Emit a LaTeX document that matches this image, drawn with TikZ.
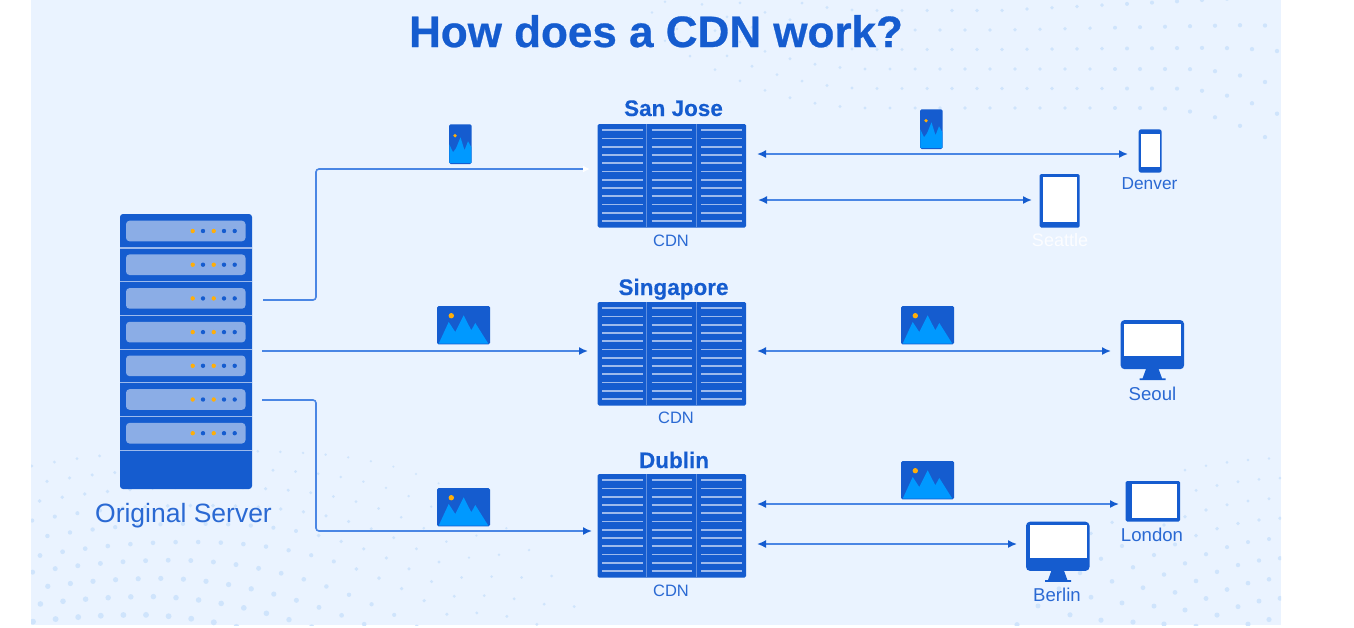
\documentclass[tikz,border=0pt]{standalone}
\usepackage{fontspec}
\setmainfont{Liberation Sans}
\newfontface\heavyface[FakeBold=0.6]{Liberation Sans Bold}
\newfontface\siteface[FakeBold=0.25]{Liberation Sans Bold}
\usetikzlibrary{arrows.meta}
\definecolor{bgc}{HTML}{EAF3FF}
\definecolor{dotc}{HTML}{CFE4FC}
\definecolor{bluec}{HTML}{155CCF}
\definecolor{linec}{HTML}{4A86E4}
\definecolor{textc}{HTML}{2A69D3}
\definecolor{slotc}{HTML}{8BADE6}
\definecolor{stripec}{HTML}{9DBAEC}
\definecolor{dividerc}{HTML}{5F8FE0}
\definecolor{skyc}{HTML}{0099FF}
\definecolor{sunc}{HTML}{FFAE0A}
\tikzset{
  solid box/.style={fill=bluec,draw=none,rounded corners=1.5pt,inner sep=0,outer sep=0},
  screen/.style={fill=white,draw=none,inner sep=0,outer sep=0},
  slot/.style={fill=slotc,draw=none,rounded corners=3.5pt,inner sep=0,outer sep=0},
  conn/.style={draw=linec,line width=1.6pt,rounded corners=3pt},
  onetip/.style={conn,-{Latex[length=9pt,width=8pt,color=bluec]}},
  twotip/.style={conn,{Latex[length=9pt,width=8pt,color=bluec]}-{Latex[length=9pt,width=8pt,color=bluec]}},
  whitetip/.style={conn,-{Latex[length=7pt,width=7pt,color=white]}},
  big title/.style={anchor=base,inner sep=0,text=bluec,font=\fontsize{44}{50}\heavyface},
  site/.style={anchor=base,inner sep=0,text=bluec,font=\fontsize{22.5}{26}\siteface},
  small label/.style={anchor=base,inner sep=0,text=textc,font=\fontsize{16.5}{20}\selectfont},
  city/.style={anchor=base,inner sep=0,text=textc,font=\fontsize{18.6}{22}\selectfont},
  server label/.style={anchor=base,inner sep=0,text=textc,font=\fontsize{26.5}{30}\selectfont},
}
% style, name, x1, y1, x2, y2
\newcommand{\rn}[6]{%
  \pgfmathsetmacro\rw{#5-(#3)}\pgfmathsetmacro\rh{#6-(#4)}%
  \pgfmathsetmacro\rcx{(#3+#5)/2}\pgfmathsetmacro\rcy{(#4+#6)/2}%
  \node[#1,minimum width=\rw pt,minimum height=\rh pt] (#2) at (\rcx,\rcy) {};}
% CDN block: name, top y
\newcommand{\cdnblock}[2]{%
  \pgfmathsetmacro\cby{#2+103.5}%
  \rn{solid box}{#1}{597.5}{#2}{746}{\cby}
  \foreach \dvx in {646.7,696.7}{\draw[dividerc,line width=.5pt] (\dvx,#2) -- (\dvx,\cby);}
  \foreach \colx in {602,651.5,701}{\foreach \sti in {0,...,11}{%
    \pgfmathsetmacro\sty{#2+6.3+8.24*\sti}%
    \draw[stripec,line width=1.7pt] (\colx,\sty) -- ++(40.5,0);}}}
% landscape picture: name, x, y
\newcommand{\wideimg}[3]{%
  \pgfmathsetmacro\ix{#2+53}\pgfmathsetmacro\iy{#3+38.3}%
  \rn{solid box}{#1}{#2}{#3}{\ix}{\iy}
  \begin{scope}[shift={(#2,#3)}]
    \fill[skyc] (1.7,37.6)--(11.7,16)--(18.3,26)--(26.7,9.3)--(34.3,24.3)--(38.3,17)--(51.3,37.6)--cycle;
    \fill[sunc] (14.3,9.7) circle[radius=2.7pt];
  \end{scope}}
% narrow picture: name, x, y
\newcommand{\tallimg}[3]{%
  \pgfmathsetmacro\ix{#2+22.7}\pgfmathsetmacro\iy{#3+39.7}%
  \rn{solid box}{#1}{#2}{#3}{\ix}{\iy}
  \begin{scope}[shift={(#2,#3)}]
    \fill[skyc] (0.3,38.5)--(0.3,20)--(4,28)--(7,24)--(11.5,13)--(15.5,26)--(19,17)--(22.4,23)--(22.4,38.5)--cycle;
    \fill[sunc] (6,11.4) circle[radius=1.8pt];
  \end{scope}}
% monitor: name, x, y
\newcommand{\monitor}[3]{%
  \pgfmathsetmacro\ix{#2+63.5}\pgfmathsetmacro\iy{#3+49.2}%
  \rn{solid box,rounded corners=4pt}{#1}{#2}{#3}{\ix}{\iy}
  \begin{scope}[shift={(#2,#3)}]
    \fill[white] (3.5,3.6) rectangle (60.5,36);
    \fill[bluec] (25.4,49)--(38,49)--(41.4,58.3)--(45,58.3)--(45,60.2)--(19,60.2)--(19,58.3)--(22,58.3)--cycle;
  \end{scope}}
\begin{document}
\begin{tikzpicture}[x=1pt,y=-1pt]
\useasboundingbox (0,0) rectangle (1354,627);
\fill[white] (0,0) rectangle (1354,627);
\rn{fill=bgc,draw=none,inner sep=0,outer sep=0}{panel}{31}{0}{1281}{625}
% background dot texture
\begin{scope}
\clip (31,0) rectangle (1281,625);
% lower left family
\foreach \j in {0,...,9}{
  \pgfmathsetmacro\yz{451+18.2*\j}
  \pgfmathsetmacro\xc{\yz>542?185-(\yz-542)*0.62:190}
  \pgfmathsetmacro\aa{min(45,13+(\yz-445)*0.289)}
  \pgfmathsetmacro\pp{max(1.8,3.7-(\yz-445)*0.0148)}
  \foreach \n in {-10,...,22}{
    \pgfmathsetmacro\xx{190-7.4*\j+22.6*\n}
    \pgfmathsetmacro\dd{\xx-\xc}
    \pgfmathsetmacro\yy{\yz+(\dd>0?\aa*pow(max(\dd,1)/200,\pp):6*(\dd/100)*(\dd/100))}
    \pgfmathsetmacro\rr{(1.5+1.5*min(1,max(0,(\yy-450)/175)))*max(.55,1-max(0,\xx-250)/500)}
    \fill[dotc] (\xx,\yy) circle[radius=\rr pt];
  }
}
% lower right family
\foreach \k in {0,...,9}{
  \pgfmathsetmacro\yz{458+20*\k}
  \pgfmathsetmacro\aa{11+3*\k}
  \foreach \n in {0,...,14}{
    \pgfmathsetmacro\xx{1290-mod(\k,2)*10-21*\n}
    \pgfmathsetmacro\dd{(1290-\xx)/100}
    \pgfmathsetmacro\yy{\yz+\aa*\dd*\dd}
    \pgfmathsetmacro\xm{1160-(\yy-480)*1.3}
    \pgfmathsetmacro\rr{1.4+1.2*min(1,max(0,(\yy-460)/160))}
    \ifdim\xx pt>\xm pt\relax
      \fill[dotc] (\xx,\yy) circle[radius=\rr pt];
    \fi
  }
}
% upper right family
\foreach \k/\sk/\ak/\tk in {0/1150/22/0,1/1170/22/0,2/1180/18/0,3/1200/6/2,4/1230/4/5,5/1300/0/13}{
  \foreach \n in {0,...,26}{
    \pgfmathsetmacro\xx{640+25*\n-13*mod(\k,2)}
    \pgfmathsetmacro\ll{\xx<870?-16*((870-\xx)/100)*((870-\xx)/100):0}
    \pgfmathsetmacro\ru{\xx>\sk?\ak*((\xx-\sk)/100)*((\xx-\sk)/100):0}
    \pgfmathsetmacro\rs{-\tk*min(1,max(0,(\xx-1000)/250))}
    \pgfmathsetmacro\yy{108-19.5*\k+\ll+\ru+\rs}
    \pgfmathsetmacro\rr{1.4+0.8*(\xx-640)/640}
    \fill[dotc] (\xx,\yy) circle[radius=\rr pt];
  }
}
\end{scope}
% title
\node[big title] (title) at (656,47) {How does a CDN work?};
% origin server
\rn{solid box,rounded corners=3pt}{server}{120}{214}{252}{489}
\foreach \i in {0,...,6}{
  \pgfmathsetmacro\sy{214+33.7*\i}
  \pgfmathsetmacro\sb{\sy+6.7}\pgfmathsetmacro\st{\sy+27.3}
  \pgfmathsetmacro\sd{\sy+17}\pgfmathsetmacro\sl{\sy+34}
  \rn{slot}{slot\i}{126}{\sb}{245.5}{\st}
  \draw[stripec,line width=1.2pt] (120,\sl) -- (252,\sl);
  \foreach \dx/\dc in {192.7/sunc,203/bluec,213.7/sunc,224/bluec,234.7/bluec}{
    \fill[\dc] (\dx,\sd) circle[radius=2.2pt];}
}
\node[server label] (serverlabel) at (183.5,522) {Original Server};
% CDN blocks
\cdnblock{sj}{124}
\cdnblock{sg}{302}
\cdnblock{db}{474}
\node[site] (sjname) at (673.5,116) {San Jose};
\node[site] (sgname) at (673.5,295) {Singapore};
\node[site] (dbname) at (674,468) {Dublin};
\node[small label] (sjcdn) at (671,246) {CDN};
\node[small label] (sgcdn) at (676,423) {CDN};
\node[small label] (dbcdn) at (671,596) {CDN};
% pictures
\tallimg{imgA}{449}{124.3}
\tallimg{imgB}{920}{109.3}
\wideimg{imgC}{437}{306}
\wideimg{imgD}{901}{306}
\wideimg{imgE}{437}{488}
\wideimg{imgF}{901}{461}
% devices
\rn{solid box,rounded corners=2.5pt}{denver}{1138.7}{129.3}{1161.7}{172.7}
\rn{screen}{denverscreen}{1141.3}{133.5}{1159.7}{166.7}
\rn{solid box}{seattle}{1039.7}{174}{1079.7}{227.7}
\rn{screen}{seattlescreen}{1042.7}{177}{1077}{221.7}
\monitor{seoul}{1120.6}{320}
\monitor{berlin}{1026}{521.7}
\rn{solid box}{london}{1125.7}{481}{1180}{521.7}
\rn{screen}{londonscreen}{1132}{484.3}{1177}{517.7}
\node[small label,font=\fontsize{17.3}{20}\selectfont] (denverlabel) at (1149.5,189) {Denver};
\node[small label,text=white!85!bgc,font=\fontsize{18}{20}\selectfont] (seattlelabel) at (1060,246) {Seattle};
\node[city] (seoullabel) at (1152.5,400) {Seoul};
\node[city] (londonlabel) at (1152,541) {London};
\node[city] (berlinlabel) at (1057,601) {Berlin};
% connector ends
\coordinate (srvA) at (263,300);
\coordinate (srvB) at (262,351);
\coordinate (srvC) at (262,400);
\coordinate (sjIn) at (590,169);
\coordinate (sgIn) at (588,351);
\coordinate (dbIn) at (592,531);
\coordinate (sjOutA) at (757,154);
\coordinate (sjOutB) at (758,200);
\coordinate (sgOut) at (757,351);
\coordinate (dbOutA) at (757,504);
\coordinate (dbOutB) at (757,544);
\coordinate (denIn) at (1128,154);
\coordinate (seaIn) at (1032,200);
\coordinate (seoIn) at (1111,351);
\coordinate (lonIn) at (1119,504);
\coordinate (berIn) at (1017,544);
\coordinate (bendA) at (316,300);
\coordinate (bendB) at (316,169);
\coordinate (bendC) at (316,400);
\coordinate (bendD) at (316,531);
% connectors
\draw[whitetip] (srvA) -- (bendA) -- (bendB) -- (sjIn);
\draw[onetip] (srvB) -- (sgIn);
\draw[onetip] (srvC) -- (bendC) -- (bendD) -- (dbIn);
\draw[twotip] (sjOutA) -- (denIn);
\draw[twotip] (sjOutB) -- (seaIn);
\draw[twotip] (sgOut) -- (seoIn);
\draw[twotip] (dbOutA) -- (lonIn);
\draw[twotip] (dbOutB) -- (berIn);
\end{tikzpicture}
\end{document}
